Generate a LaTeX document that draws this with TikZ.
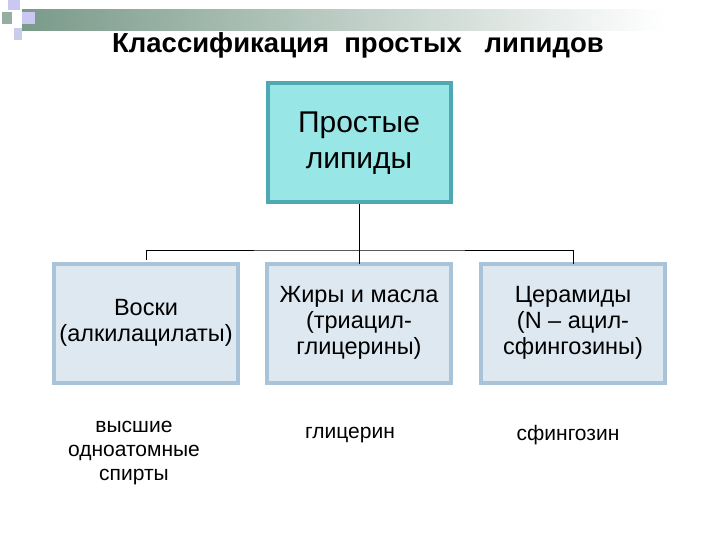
\documentclass[tikz,border=0pt]{standalone}
\usepackage{fontspec}
\setmainfont{Liberation Sans}
\begin{document}
\begin{tikzpicture}[x=1pt,y=-1pt,
  box/.style={draw=boxedge,line width=4pt,fill=boxfill,minimum width=184pt,minimum height=119pt,align=center,font=\fontsize{23.5}{26}\selectfont,inner sep=2pt},
  lbl/.style={align=center,font=\fontsize{21}{24}\selectfont},
  conn/.style={line width=1pt,black}]
\definecolor{boxedge}{HTML}{A9C4D9}
\definecolor{boxfill}{HTML}{DDE8F0}
\definecolor{topfill}{HTML}{99E6E6}
\definecolor{topedge}{HTML}{4FA9B2}
\definecolor{barc}{HTML}{7A9A8A}
\definecolor{lav}{HTML}{C8C8F0}
\useasboundingbox (0,0) rectangle (720,540);
\fill[white] (0,0) rectangle (720,540);
\shade[left color=barc,right color=white] (22,10) rectangle (665,31);
\fill[lav] (8,0) rectangle (20,10);
\fill[barc!80] (2,12) rectangle (12,24);
\fill[lav] (22,12) rectangle (35,24);
\fill[cyan!25!blue!20] (14,28) rectangle (22,40);
\node[font=\bfseries\fontsize{27.5}{30}\selectfont] (title) at (358,45) {Классификация\ \ простых\ \ \ липидов};
\node[draw=topedge,line width=4pt,fill=topfill,minimum width=183pt,minimum height=119pt,align=center,font=\fontsize{30}{36}\selectfont] (top) at (359,143) {Простые\\липиды};
\node[box] (b1) at (146,323) {Воски\\(алкилацилаты)};
\node[box] (b2) at (359,323) {Жиры и масла\\(триацил-\\глицерины)};
\node[box] (b3) at (573,323) {Церамиды\\(N – ацил-\\сфингозины)};
\coordinate (j) at (359,250);
\draw[conn] (top.south) -- (j);
\draw[conn] (b1.north) ++(0,-2) |- (j) -| ([yshift=-2pt]b3.north);
\draw[conn] (j) -- ([yshift=-2pt]b2.north);
\node[lbl] (l1) at (134,453) {высшие\\одноатомные\\спирты};
\node[lbl] (l2) at (350,435) {глицерин};
\node[lbl] (l3) at (568,435) {сфингозин};
\end{tikzpicture}
\end{document}
